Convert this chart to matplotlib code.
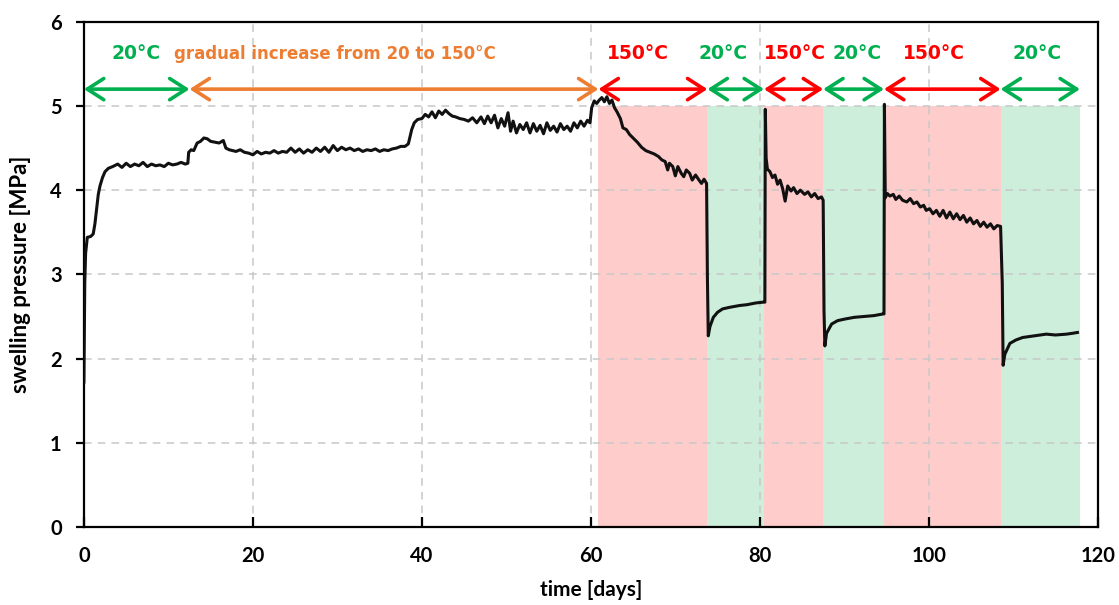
import numpy as np
import matplotlib.pyplot as plt
from matplotlib.patches import FancyArrowPatch

# swelling pressure record, one list of (day, MPa) per temperature stage
stage_20a = [
    (0.0, 1.72), (0.1, 2.90), (0.2, 3.25), (0.4, 3.44), (0.8, 3.45), (1.1, 3.48),
    (1.3, 3.60), (1.5, 3.78), (1.7, 3.95), (1.9, 4.05), (2.2, 4.15), (2.5, 4.22),
    (2.9, 4.26), (3.4, 4.28), (4.0, 4.31), (4.5, 4.27), (5.0, 4.32), (5.5, 4.28),
    (6.0, 4.31), (6.5, 4.29), (7.0, 4.33), (7.5, 4.28), (8.0, 4.31), (8.5, 4.29),
    (9.0, 4.30), (9.5, 4.28), (10.0, 4.32), (10.5, 4.30), (11.0, 4.31), (11.5, 4.33),
    (12.0, 4.31), (12.3, 4.32),
]
stage_ramp = [
    (12.4, 4.45), (12.7, 4.48), (13.0, 4.47), (13.4, 4.56), (13.8, 4.58), (14.2, 4.62),
    (14.6, 4.61), (15.0, 4.58), (15.5, 4.57), (16.0, 4.56), (16.5, 4.59), (16.8, 4.50),
    (17.2, 4.48), (17.6, 4.47), (18.0, 4.46), (18.5, 4.48), (19.0, 4.45), (19.5, 4.44),
    (20.0, 4.42), (20.5, 4.46), (21.0, 4.43), (21.5, 4.45), (22.0, 4.44), (22.5, 4.47),
    (23.0, 4.44), (23.5, 4.46), (24.0, 4.45), (24.5, 4.50), (25.0, 4.45), (25.5, 4.49),
    (26.0, 4.44), (26.5, 4.48), (27.0, 4.45), (27.5, 4.50), (28.0, 4.46), (28.5, 4.51),
    (29.0, 4.45), (29.5, 4.53), (30.0, 4.47), (30.5, 4.51), (31.0, 4.48), (31.5, 4.50),
    (32.0, 4.47), (32.5, 4.49), (33.0, 4.46), (33.5, 4.48), (34.0, 4.47), (34.5, 4.49),
    (35.0, 4.46), (35.5, 4.48), (36.0, 4.47), (36.5, 4.49), (37.0, 4.50), (37.5, 4.52),
    (38.0, 4.52), (38.4, 4.55), (38.8, 4.72), (39.1, 4.80), (39.5, 4.84), (40.0, 4.85),
    (40.4, 4.90), (40.8, 4.87), (41.2, 4.93), (41.6, 4.86), (42.0, 4.94), (42.4, 4.90),
    (42.8, 4.95), (43.2, 4.91), (43.6, 4.88), (44.0, 4.87), (44.5, 4.85), (45.0, 4.84),
    (45.5, 4.82), (46.0, 4.86), (46.5, 4.80), (47.0, 4.87), (47.4, 4.79), (47.8, 4.88),
    (48.2, 4.80), (48.6, 4.89), (49.0, 4.74), (49.4, 4.85), (49.8, 4.76), (50.2, 4.92),
    (50.5, 4.70), (50.8, 4.82), (51.2, 4.68), (51.6, 4.78), (52.0, 4.72), (52.4, 4.80),
    (52.8, 4.68), (53.2, 4.79), (53.6, 4.70), (54.0, 4.77), (54.4, 4.67), (54.8, 4.80),
    (55.2, 4.71), (55.6, 4.76), (56.0, 4.69), (56.4, 4.79), (56.8, 4.72), (57.2, 4.76),
    (57.6, 4.70), (58.0, 4.80), (58.4, 4.74), (58.8, 4.82), (59.2, 4.76), (59.6, 4.83),
    (59.9, 4.80), (60.1, 4.98), (60.4, 5.06), (60.7, 5.03),
]
stage_150a = [
    (61.0, 5.07), (61.3, 5.10), (61.6, 5.05), (61.9, 5.11), (62.2, 5.03), (62.5, 5.07),
    (62.8, 4.98), (63.1, 4.93), (63.5, 4.85), (63.8, 4.74), (64.2, 4.72), (64.6, 4.66),
    (65.0, 4.62), (65.5, 4.57), (66.0, 4.51), (66.5, 4.47), (67.0, 4.45), (67.5, 4.43),
    (68.0, 4.40), (68.4, 4.36), (68.8, 4.34), (69.1, 4.24), (69.3, 4.32), (69.7, 4.28),
    (70.0, 4.17), (70.3, 4.28), (70.7, 4.20), (71.0, 4.16), (71.3, 4.24), (71.7, 4.20),
    (72.0, 4.12), (72.4, 4.18), (72.8, 4.12), (73.1, 4.08), (73.4, 4.13), (73.7, 4.08),
]
stage_20b = [
    (73.8, 2.95), (73.9, 2.27), (74.1, 2.38), (74.5, 2.49), (75.0, 2.55), (75.6, 2.59),
    (76.5, 2.61), (77.6, 2.63), (78.5, 2.64), (79.5, 2.66), (80.4, 2.67), (80.6, 2.67),
]
stage_150b = [
    (80.65, 4.96), (80.75, 4.38), (80.9, 4.25), (81.2, 4.22), (81.5, 4.15), (81.8, 4.18),
    (82.1, 4.07), (82.4, 4.12), (82.7, 4.02), (83.0, 3.87), (83.3, 4.05), (83.7, 3.99),
    (84.0, 4.03), (84.4, 3.96), (84.8, 4.00), (85.3, 3.95), (85.7, 3.98), (86.1, 3.92),
    (86.5, 3.96), (86.9, 3.90), (87.3, 3.92), (87.5, 3.88),
]
stage_20c = [
    (87.6, 2.57), (87.7, 2.15), (87.9, 2.30), (88.5, 2.41), (89.2, 2.45), (90.1, 2.47),
    (91.2, 2.49), (92.4, 2.50), (93.5, 2.51), (94.6, 2.53), (94.7, 2.53),
]
stage_150c = [
    (94.75, 5.02), (94.85, 3.91), (95.1, 3.96), (95.4, 3.93), (95.8, 3.95), (96.1, 3.89),
    (96.5, 3.93), (96.9, 3.88), (97.4, 3.86), (97.8, 3.90), (98.2, 3.84), (98.6, 3.86),
    (99.0, 3.80), (99.4, 3.82), (99.7, 3.76), (100.1, 3.78), (100.5, 3.72), (100.9, 3.76),
    (101.3, 3.69), (101.7, 3.76), (102.1, 3.67), (102.5, 3.74), (102.9, 3.66), (103.3, 3.72),
    (103.7, 3.65), (104.1, 3.70), (104.5, 3.62), (104.9, 3.67), (105.3, 3.60), (105.7, 3.64),
    (106.1, 3.57), (106.5, 3.62), (106.9, 3.56), (107.3, 3.60), (107.7, 3.54), (108.1, 3.58),
    (108.5, 3.57),
]
stage_20d = [
    (108.7, 2.89), (108.8, 1.92), (109.0, 2.05), (109.6, 2.18), (110.3, 2.22), (111.1, 2.25),
    (112.5, 2.27), (113.9, 2.29), (115.0, 2.28), (116.3, 2.29), (117.0, 2.30), (117.6, 2.31),
]

# temperature stages: start day, end day, label, kind
stage_start = [0.0, 12.5, 60.9, 73.8, 80.5, 87.5, 94.7, 108.5]
stage_end = [12.5, 60.9, 73.8, 80.5, 87.5, 94.7, 108.5, 117.9]
stage_label = ['20°C', 'gradual increase from 20 to 150°C', '150°C', '20°C',
               '150°C', '20°C', '150°C', '20°C']
stage_kind = ['cold', 'ramp', 'hot', 'cold', 'hot', 'cold', 'hot', 'cold']
label_x = [6.2, 29.7, 65.6, 75.6, 84.1, 91.5, 100.6, 112.8]
label_size = [13.5, 12, 13.5, 13.5, 13.5, 13.5, 13.5, 13.5]

arrow_color = {'cold': '#00B050', 'ramp': '#ED7D31', 'hot': '#FF0000'}
fill_color = {'hot': '#FFCCCC', 'cold': '#CCEEDB'}

curve = np.array(stage_20a + stage_ramp + stage_150a + stage_20b
                 + stage_150b + stage_20c + stage_150c + stage_20d)

fig = plt.figure(figsize=(11.19, 6.05), dpi=100)
ax = fig.add_axes([0.075, 0.129, 0.906, 0.835])

# shading only for the cycling part, after the heating ramp
for s, e, kind in list(zip(stage_start, stage_end, stage_kind))[2:]:
    ax.fill_between([s, e], 0, 5, color=fill_color[kind], lw=0, zorder=0)

ax.plot(curve[:, 0], curve[:, 1], color='#111111', lw=2.2, zorder=3)

for s, e, lab, kind, lx, fs in zip(stage_start, stage_end, stage_label, stage_kind,
                                   label_x, label_size):
    c = arrow_color[kind]
    arr = FancyArrowPatch((s, 5.2), (e, 5.2), arrowstyle='<->,head_length=0.7,head_width=0.45',
                          color=c, lw=2.6, mutation_scale=17, shrinkA=0, shrinkB=0, zorder=4)
    ax.add_patch(arr)
    ax.text(lx, 5.62, lab, color=c, ha='center', va='center', fontsize=fs,
            fontweight='bold', family='DejaVu Sans')

ax.set_xlim(0, 120)
ax.set_ylim(0, 6)
ax.set_xticks(np.arange(0, 121, 20))
ax.set_yticks(np.arange(0, 7, 1))
ax.grid(True, color='#C8C8C8', ls=(0, (5, 4)), lw=1.1)
ax.set_axisbelow(True)
for sp in ax.spines.values():
    sp.set_linewidth(1.6)
    sp.set_color('black')
ax.tick_params(axis='x', direction='in', length=7, width=1.6, labelsize=14.5, pad=14)
ax.tick_params(axis='y', direction='out', length=6, width=1.6, labelsize=14.5, pad=10)
for t in ax.get_xticklabels() + ax.get_yticklabels():
    t.set_fontweight('bold')
    t.set_family('Lato')
ax.set_xlabel('time [days]', fontsize=15, fontweight='bold', family='Lato', labelpad=10)
ax.set_ylabel('swelling pressure [MPa]', fontsize=16, fontweight='bold', family='Lato', labelpad=14)

fig.savefig('out.png', dpi=100)
